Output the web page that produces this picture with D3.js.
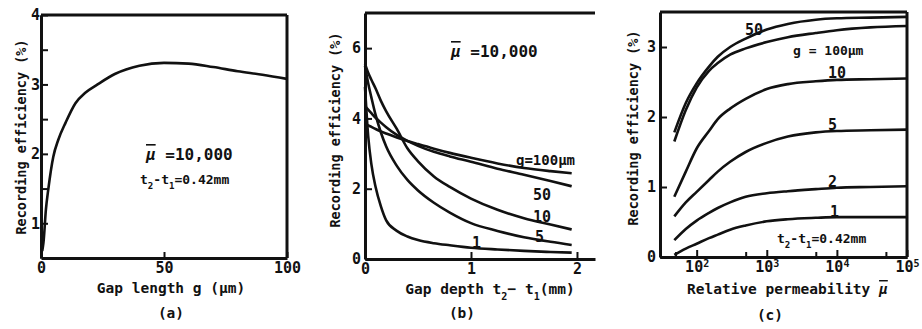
<!DOCTYPE html>
<html>
<head>
<meta charset="utf-8">
<script src="https://cdn.jsdelivr.net/npm/d3@7"></script>
<style>
  body { margin: 0; background: #fff; }
  svg text { font-family: "DejaVu Sans Mono", monospace; font-weight: bold; fill: #111; }
  .bar { text-decoration: overline; }
</style>
</head>
<body>
<svg id="chart" width="922" height="329"></svg>
<script>
// (a) efficiency vs gap length, mu = 10,000, t2-t1 = 0.42mm
const gapLength = [0.5, 1, 2, 3, 5, 7, 10, 14, 18, 23, 30, 40, 50, 60, 70, 80, 90, 100]
const effByGap = [0.6, 0.72, 1.2, 1.5, 1.96, 2.2, 2.45, 2.73, 2.88, 3.0, 3.15, 3.27, 3.31, 3.3, 3.25, 3.19, 3.14, 3.08]

// (b) efficiency vs gap depth, one series per gap length g
const gapDepth = [0, 0.03, 0.06, 0.1, 0.15, 0.2, 0.3, 0.4, 0.5, 0.65, 0.8, 1.0, 1.25, 1.5, 1.75, 1.95]
const depthG1 = [4.9, 3.5, 2.7, 2.05, 1.5, 1.1, 0.8, 0.64, 0.54, 0.45, 0.39, 0.32, 0.27, 0.23, 0.2, 0.18]
const depthG5 = [5.5, 5.0, 4.6, 4.1, 3.6, 3.2, 2.65, 2.25, 1.95, 1.6, 1.32, 1.02, 0.8, 0.62, 0.49, 0.4]
const depthG10 = [5.55, 5.3, 5.1, 4.85, 4.5, 4.2, 3.7, 3.15, 2.78, 2.35, 2.05, 1.72, 1.4, 1.16, 0.98, 0.84]
const depthG50 = [4.35, 4.25, 4.15, 4.02, 3.88, 3.75, 3.53, 3.36, 3.22, 3.05, 2.92, 2.77, 2.57, 2.4, 2.22, 2.07]
const depthG100 = [3.85, 3.8, 3.76, 3.7, 3.63, 3.57, 3.46, 3.36, 3.27, 3.14, 3.02, 2.88, 2.72, 2.59, 2.5, 2.44]

// (c) efficiency vs relative permeability
const permeability = [48, 70, 100, 150, 200, 300, 500, 1000, 2000, 5000, 1e4, 3e4, 1e5]
const permG1 = [0.03, 0.12, 0.19, 0.27, 0.32, 0.39, 0.45, 0.51, 0.54, 0.56, 0.57, 0.57, 0.57]
const permG2 = [0.24, 0.4, 0.52, 0.63, 0.7, 0.78, 0.86, 0.91, 0.94, 0.97, 0.99, 1.0, 1.01]
const permG5 = [0.58, 0.78, 0.93, 1.1, 1.22, 1.36, 1.5, 1.63, 1.72, 1.78, 1.8, 1.81, 1.82]
const permG10 = [0.86, 1.22, 1.55, 1.8, 1.97, 2.12, 2.26, 2.4, 2.47, 2.51, 2.53, 2.54, 2.55]
const permG50 = [1.78, 2.2, 2.48, 2.72, 2.86, 3.0, 3.12, 3.25, 3.33, 3.39, 3.41, 3.42, 3.43]
const permG100 = [1.65, 2.1, 2.42, 2.66, 2.77, 2.89, 2.98, 3.07, 3.14, 3.2, 3.24, 3.28, 3.3]

const ticksA = [0, 50, 100]
const ticksB = [0, 1, 2]
const ticksC = [1e2, 1e3, 1e4, 1e5]
const yLabel = 'Recording efficiency (%)'

const svg = d3.select('#chart')
const fmt = d3.format('d')

function line(x, y, xs) {
  return d3.line()
    .x((d, i) => x(xs[i]))
    .y((d) => y(d))
    .curve(d3.curveMonotoneX)
}

function styleAxis(g) {
  g.select('.domain').attr('stroke', '#111').attr('stroke-width', 3)
  g.selectAll('.tick line').attr('stroke', '#111').attr('stroke-width', 2)
  g.selectAll('.tick text').attr('font-size', 15).attr('fill', '#111')
    .style('font-family', '"DejaVu Sans Mono", monospace').style('font-weight', 'bold')
}

function hline(x0, x1, y) {
  svg.append('line').attr('x1', x0).attr('x2', x1).attr('y1', y).attr('y2', y)
    .attr('stroke', '#111').attr('stroke-width', 3)
}
function vline(x, y0, y1) {
  svg.append('line').attr('x1', x).attr('x2', x).attr('y1', y0).attr('y2', y1)
    .attr('stroke', '#111').attr('stroke-width', 3)
}

function text(x, y, s, size, anchor) {
  return svg.append('text').attr('x', x).attr('y', y)
    .attr('font-size', size).attr('text-anchor', anchor || 'start').text(s)
}

// text made of pieces: [string, kind] where kind 1 = subscript, 2 = overlined
function richText(x, y, size, parts, anchor) {
  const t = svg.append('text').attr('x', x).attr('y', y)
    .attr('font-size', size).attr('text-anchor', anchor || 'start')
  parts.forEach(([s, kind]) => {
    const sp = t.append('tspan').text(s)
      .attr('font-size', kind === 1 ? size * 0.7 : size)
      .attr('baseline-shift', kind === 1 ? 'sub' : null)
    if (kind === 2) sp.attr('class', 'bar').style('font-style', 'italic')
  })
  return t
}

function yTitle(x, y) {
  svg.append('text').attr('transform', `translate(${x},${y}) rotate(-90)`)
    .attr('font-size', 13.5).attr('text-anchor', 'middle').text(yLabel)
}

function drawCurve(x, y, xs, ys) {
  svg.append('path').datum(ys)
    .attr('fill', 'none').attr('stroke', '#111').attr('stroke-width', 2.6)
    .attr('d', line(x, y, xs))
}

const tSub = [['t', 0], ['2', 1], ['-t', 0], ['1', 1], ['=0.42mm', 0]]

// ---------- (a) ----------
{
  const x = d3.scaleLinear().domain([0, 100]).range([41, 287])
  const y = d3.scaleLinear().domain([0.5, 4]).range([258, 15])

  svg.append('g').attr('transform', 'translate(0,258)')
    .call(d3.axisBottom(x).tickValues(ticksA).tickSize(-6).tickPadding(4).tickSizeOuter(0))
    .call(styleAxis)
  svg.append('g').attr('transform', 'translate(41,0)')
    .call(d3.axisLeft(y).tickValues([1, 2, 3, 4]).tickFormat(fmt).tickSize(-7).tickPadding(1).tickSizeOuter(0))
    .call(styleAxis)
  svg.append('g').attr('transform', 'translate(41,0)')
    .call(d3.axisLeft(y).tickValues([1.5, 2.5, 3.5]).tickSize(-7).tickFormat('').tickSizeOuter(0))
    .call(styleAxis)
  hline(41, 287, 15)
  vline(287, 15, 258)

  drawCurve(x, y, gapLength, effByGap)

  richText(146, 160, 16, [['μ', 2], [' =10,000', 0]])
  richText(140, 184, 13, tSub)
  text(171, 293, 'Gap length g (μm)', 14.5, 'middle')
  text(171, 318, '(a)', 14.5, 'middle')
  yTitle(26, 137)
}

// ---------- (b) ----------
{
  const x = d3.scaleLinear().domain([0, 2.17]).range([365, 595])
  const y = d3.scaleLinear().domain([0, 7]).range([259, 13])

  svg.append('g').attr('transform', 'translate(0,259)')
    .call(d3.axisBottom(x).tickValues(ticksB).tickFormat(fmt).tickSize(-7).tickPadding(4).tickSizeOuter(0))
    .call(styleAxis)
  svg.append('g').attr('transform', 'translate(365,0)')
    .call(d3.axisLeft(y).tickValues([0, 2, 4, 6]).tickFormat(fmt).tickSize(-7).tickPadding(4).tickSizeOuter(0))
    .call(styleAxis)
  hline(365, 595, 13)

  ;[depthG1, depthG5, depthG10, depthG50, depthG100].forEach((ys) => drawCurve(x, y, gapDepth, ys))

  richText(451, 57, 16, [['μ', 2], [' =10,000', 0]])
  text(516, 165, 'g=100μm', 14)
  text(533, 200, '50', 15)
  text(533, 222, '10', 15)
  text(535, 242, '5', 15)
  text(472, 248, '1', 15)
  richText(490, 294, 14.5, [['Gap depth t', 0], ['2', 1], ['− t', 0], ['1', 1], ['(mm)', 0]], 'middle')
  text(462, 318, '(b)', 14.5, 'middle')
  yTitle(340, 130)
}

// ---------- (c) ----------
{
  const x = d3.scaleLog().domain([30, 1e5]).range([660, 907])
  const y = d3.scaleLinear().domain([0, 3.5]).range([257, 12])

  const minor = [5e1, 5e2, 5e3, 5e4]
  const ax = svg.append('g').attr('transform', 'translate(0,257)')
    .call(d3.axisBottom(x).tickValues(ticksC).tickSize(-7).tickPadding(4).tickSizeOuter(0)
      .tickFormat(() => ''))
    .call(styleAxis)
  ax.selectAll('.tick text').each(function (d) {
    const t = d3.select(this)
    t.append('tspan').text('10')
    t.append('tspan').text(Math.round(Math.log10(d))).attr('font-size', 10).attr('dy', '-0.5em')
  })
  svg.append('g').attr('transform', 'translate(0,257)')
    .call(d3.axisBottom(x).tickValues(minor).tickSize(-5).tickFormat('').tickSizeOuter(0))
    .call(styleAxis)
  svg.append('g').attr('transform', 'translate(660,0)')
    .call(d3.axisLeft(y).tickValues([0, 1, 2, 3]).tickFormat(fmt).tickSize(-7).tickPadding(4).tickSizeOuter(0))
    .call(styleAxis)
  hline(660, 907, 12)
  vline(907, 12, 257)

  ;[permG1, permG2, permG5, permG10, permG50, permG100].forEach((ys) => drawCurve(x, y, permeability, ys))

  text(745, 35, '50', 15)
  text(793, 55, 'g = 100μm', 13)
  text(828, 78, '10', 15)
  text(828, 130, '5', 15)
  text(828, 187, '2', 15)
  text(830, 217, '1', 15)
  richText(777, 243, 13, tSub)
  richText(687, 294, 14.5, [['Relative permeability ', 0], ['μ', 2]])
  text(770, 320, '(c)', 14.5, 'middle')
  yTitle(638, 128)
}
</script>
</body>
</html>
